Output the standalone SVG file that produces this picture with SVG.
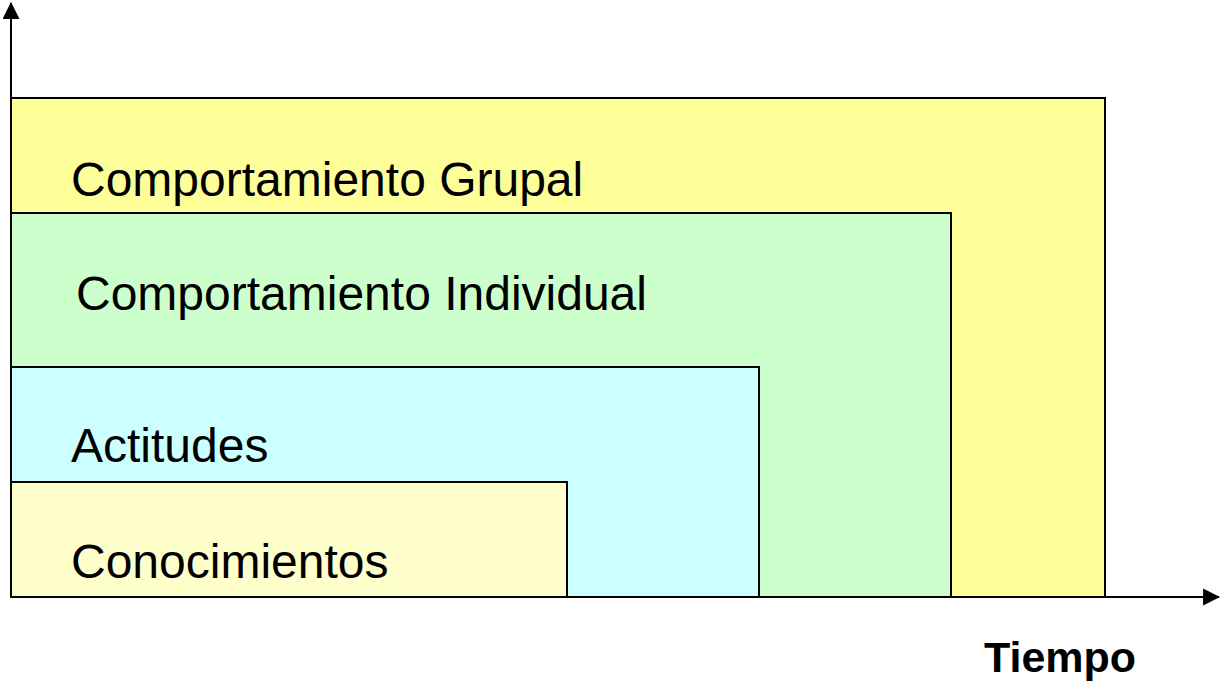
<svg xmlns="http://www.w3.org/2000/svg" width="1220" height="681" viewBox="0 0 1220 681">
<style>
.box{stroke:#000;stroke-width:2}
.lbl{font-family:"Liberation Sans",Arial,sans-serif;font-size:48px;fill:#000}
.axis{stroke:#000;stroke-width:2;fill:none}
</style>
<defs>
<marker id="arr" viewBox="0 0 16 16" refX="15" refY="8" markerWidth="17" markerHeight="17" markerUnits="userSpaceOnUse" orient="auto">
<path d="M0,0 L16,8 L0,16 Z" fill="#000"/>
</marker>
</defs>
<rect width="1220" height="681" fill="#fff"/>
<g id="grupal">
<rect class="box" x="11" y="98" width="1094" height="499" fill="#FFFF99"/>
<text class="lbl" x="71" y="196">Comportamiento Grupal</text>
</g>
<g id="individual">
<rect class="box" x="11" y="213" width="940" height="384" fill="#CCFFCC"/>
<text class="lbl" x="76" y="310">Comportamiento Individual</text>
</g>
<g id="actitudes">
<rect class="box" x="11" y="367" width="748" height="230" fill="#CCFFFF"/>
<text class="lbl" x="71" y="462">Actitudes</text>
</g>
<g id="conocimientos">
<rect class="box" x="11" y="482" width="556" height="115" fill="#FFFFCC"/>
<text class="lbl" x="71" y="578">Conocimientos</text>
</g>
<g id="connectors">
<line class="axis" x1="11" y1="598" x2="11" y2="3" marker-end="url(#arr)"/>
<line class="axis" x1="11" y1="597" x2="1219" y2="597" marker-end="url(#arr)"/>
</g>
<g id="tiempo">
<text x="984" y="672" style="font-family:'Liberation Sans',Arial,sans-serif;font-size:43px;font-weight:bold">Tiempo</text>
</g>
</svg>
